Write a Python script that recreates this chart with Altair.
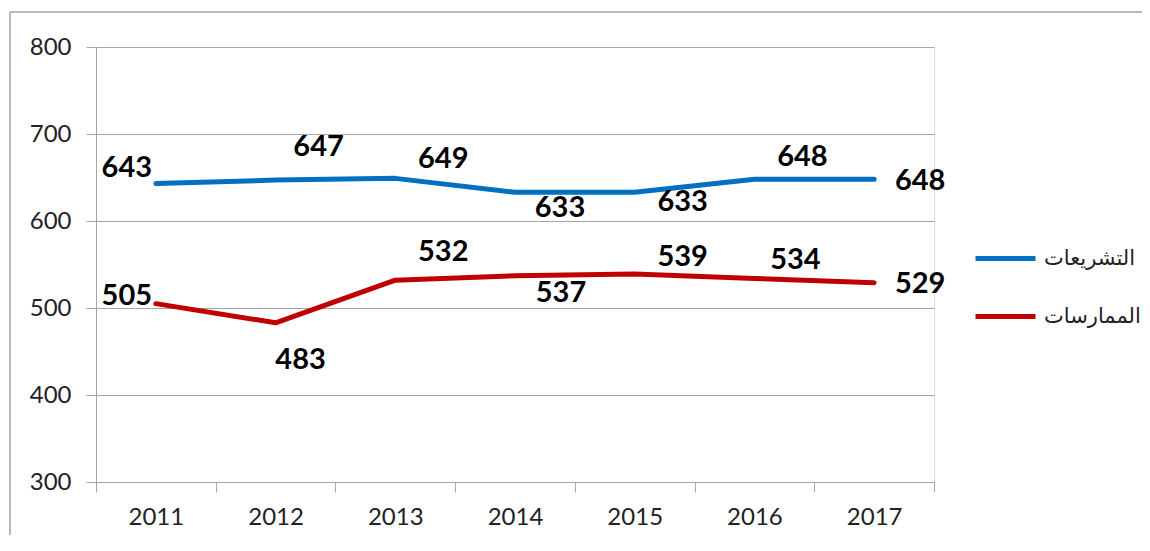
import altair as alt
import pandas as pd

years = ["2011", "2012", "2013", "2014", "2015", "2016", "2017"]
series_names = ["التشريعات", "الممارسات"]
legislation = [643, 647, 649, 633, 633, 648, 648]
practices = [505, 483, 532, 537, 539, 534, 529]
y_ticks = [300, 400, 500, 600, 700, 800]
colors = ["#0070C0", "#C00000"]

# label offsets (pixels) relative to each point, style only
leg_dx = [-29, 43, 48, 45, 48, 48, 46]
leg_dy = [-16, -33, -19, 16, 10, -22, 2]
pra_dx = [-29, 25, 48, 46, 48, 41, 46]
pra_dy = [-8, 37, -28, 17, -17, -18, 1]

rows = []
for i, yr in enumerate(years):
    rows.append({"year": yr, "series": series_names[0], "value": legislation[i]})
    rows.append({"year": yr, "series": series_names[1], "value": practices[i]})
df = pd.DataFrame(rows)

FONT = "Lato"
W, H = 838, 435

x_enc = alt.X(
    "year:O",
    bandPosition=0.5,
    scale=alt.Scale(type="band", domain=years, paddingInner=0, paddingOuter=0),
    axis=alt.Axis(
        title=None, tickBand="extent", labelAngle=0, grid=False,
        domainColor="#A6A6A6", tickColor="#A6A6A6", tickSize=10,
        labelPadding=13, labelFontSize=24, labelFont=FONT, labelColor="#222222",
    ),
)
y_enc = alt.Y(
    "value:Q",
    scale=alt.Scale(domain=[300, 800], nice=False, zero=False),
    axis=alt.Axis(
        title=None, values=y_ticks, grid=True, gridColor="#A6A6A6",
        domainColor="#A6A6A6", tickColor="#A6A6A6", tickSize=10,
        labelPadding=15, labelFontSize=24, labelFont=FONT, labelColor="#222222",
    ),
)

one = pd.DataFrame({"a": [0]})
border_top = alt.Chart(one).mark_rule(stroke="#A0A0A0", strokeWidth=1.5, clip=False).encode(
    x=alt.value(-86), x2=alt.value(1100), y=alt.value(-35)
)
border_left = alt.Chart(one).mark_rule(stroke="#A0A0A0", strokeWidth=1.5, clip=False).encode(
    x=alt.value(-86), y=alt.value(-35), y2=alt.value(540)
)

lines = alt.Chart(df).mark_line(strokeWidth=5, interpolate="linear", strokeCap="round", strokeJoin="round").encode(
    x=x_enc,
    y=y_enc,
    color=alt.Color(
        "series:N",
        scale=alt.Scale(domain=series_names, range=colors),
        legend=alt.Legend(
            title=None, orient="none", legendX=877, legendY=179,
            symbolType="stroke", symbolSize=3600, symbolStrokeWidth=5,
            labelFontSize=21, labelFont="DejaVu Sans", labelColor="#222222",
            labelOffset=6, rowPadding=15, labelLimit=300,
        ),
    ),
    detail="series:N",
)

labels = []
for i, yr in enumerate(years):
    for s_name, dxs, dys in [(series_names[0], leg_dx, leg_dy), (series_names[1], pra_dx, pra_dy)]:
        labels.append(
            alt.Chart(df).transform_filter(
                (alt.datum.year == yr) & (alt.datum.series == s_name)
            ).mark_text(
                dx=dxs[i], dy=dys[i], fontSize=29, fontWeight="bold", font=FONT,
                color="#000000", align="center", baseline="middle",
            ).encode(
                x=alt.X("year:O", bandPosition=0.5),
                y=alt.Y("value:Q"),
                text="value:Q",
            )
        )

chart = alt.layer(border_top, border_left, lines, *labels).properties(
    width=W, height=H,
    autosize=alt.AutoSizeParams(type="none"),
    padding={"left": 88, "top": 39, "right": 208, "bottom": 53},
).configure_view(stroke=None).configure(background="white")

chart.save("out.html", embed_options={"renderer": "svg", "actions": False})
